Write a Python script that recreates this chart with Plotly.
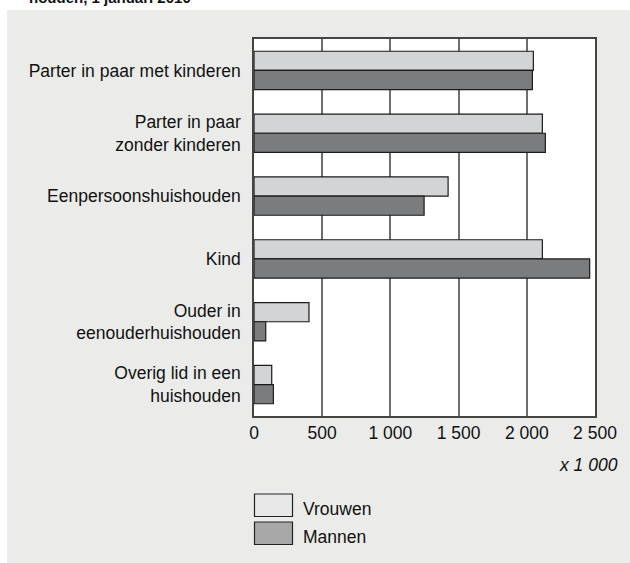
import plotly.graph_objects as go

categories = [
    "Parter in paar met kinderen",
    "Parter in paar<br>zonder kinderen",
    "Eenpersoonshuishouden",
    "Kind",
    "Ouder in<br>eenouderhuishouden",
    "Overig lid in een<br>huishouden",
]
vrouwen = [2048, 2114, 1423, 2114, 403, 130]
mannen = [2041, 2136, 1247, 2461, 86, 142]
tick_vals = [0, 500, 1000, 1500, 2000, 2500]
tick_text = ["0", "500", "1 000", "1 500", "2 000", "2 500"]

FONT = "Liberation Sans, Arial, sans-serif"
PANEL = "#ebecea"
W, H = 630, 563
L, R, T, B = 254, 35, 39, 147
PW, PH = W - L - R, H - T - B


def px(x):
    return (x - L) / PW


def py(y):
    return (H - B - y) / PH


fig = go.Figure()
fig.add_trace(go.Bar(
    y=categories, x=vrouwen, orientation="h", name="Vrouwen",
    marker=dict(color="#d3d4d5", line=dict(color="#1a1a1a", width=1.2)),
    showlegend=False,
))
fig.add_trace(go.Bar(
    y=categories, x=mannen, orientation="h", name="Mannen",
    marker=dict(color="#7b7c7e", line=dict(color="#1a1a1a", width=1.2)),
    showlegend=False,
))

shapes = [
    # white strips around the grey panel
    dict(type="rect", xref="paper", yref="paper", x0=px(-5), x1=px(640), y0=py(10), y1=py(-5),
         fillcolor="white", line=dict(width=0), layer="below"),
    dict(type="rect", xref="paper", yref="paper", x0=px(-5), x1=px(7), y0=py(570), y1=py(-5),
         fillcolor="white", line=dict(width=0), layer="below"),
    # legend swatches
    dict(type="rect", xref="paper", yref="paper", x0=px(254.5), x1=px(292.5), y0=py(516.5), y1=py(494),
         fillcolor="#e8e8e8", line=dict(color="#222", width=1.2)),
    dict(type="rect", xref="paper", yref="paper", x0=px(254.5), x1=px(292.5), y0=py(544.5), y1=py(522),
         fillcolor="#a8a8a8", line=dict(color="#222", width=1.2)),
]

annotations = [
    dict(text="<b>houden, 1 januari 2010</b>", xref="paper", yref="paper", x=px(27), y=py(8),
         xanchor="left", yanchor="bottom", showarrow=False,
         font=dict(family=FONT, size=15, color="#111")),
    dict(text="<i>x 1 000</i>", xref="paper", yref="paper", x=px(620), y=py(465),
         xanchor="right", yanchor="middle", showarrow=False,
         font=dict(family=FONT, size=17.5, color="#111")),
    dict(text="Vrouwen", xref="paper", yref="paper", x=px(301), y=py(509),
         xanchor="left", yanchor="middle", showarrow=False,
         font=dict(family=FONT, size=17.5, color="#111")),
    dict(text="Mannen", xref="paper", yref="paper", x=px(301), y=py(537),
         xanchor="left", yanchor="middle", showarrow=False,
         font=dict(family=FONT, size=17.5, color="#111")),
]

fig.update_layout(
    width=W, height=H,
    margin=dict(l=L, r=R, t=T, b=B, pad=0),
    paper_bgcolor=PANEL,
    plot_bgcolor="white",
    barmode="group",
    bargap=0.39,
    bargroupgap=0,
    shapes=shapes,
    annotations=annotations,
    font=dict(family=FONT, size=17.5, color="#111"),
    xaxis=dict(
        range=[0, 2500], tickvals=tick_vals, ticktext=tick_text,
        showgrid=True, gridcolor="#6e6e6e", gridwidth=1.5,
        showline=True, linecolor="#444", linewidth=1.5, mirror=True,
        ticks="", zeroline=False, fixedrange=True,
        tickfont=dict(family=FONT, size=17.5, color="#111"),
    ),
    yaxis=dict(
        autorange="reversed",
        showline=True, linecolor="#444", linewidth=1.5, mirror=True,
        ticks="outside", ticklen=8, tickcolor="rgba(0,0,0,0)",
        showgrid=False, fixedrange=True,
        tickfont=dict(family=FONT, size=17.5, color="#111"),
    ),
)

fig.write_html(
    "out.html",
    config={"displayModeBar": False},
    post_script=(
        "document.body.style.margin='0';"
        "document.body.style.overflow='hidden';"
        "document.body.style.background='" + PANEL + "';"
        "document.documentElement.style.background='" + PANEL + "';"
        "document.documentElement.style.overflow='hidden';"
    ),
)
